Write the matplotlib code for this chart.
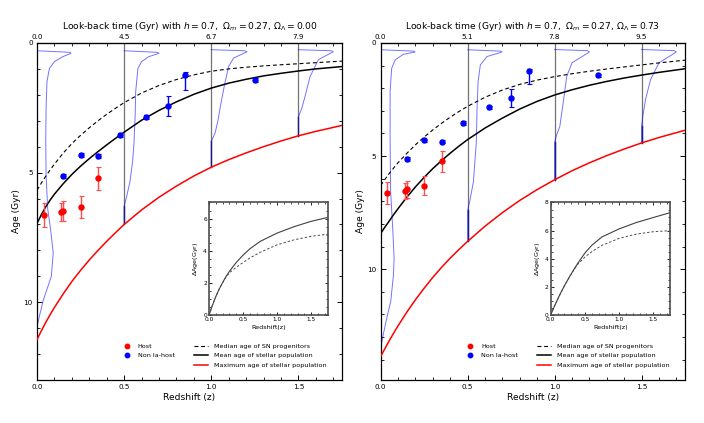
import numpy as np
import matplotlib
matplotlib.use("Agg")
import matplotlib.pyplot as plt
from matplotlib.ticker import MultipleLocator
from matplotlib.lines import Line2D

# --- observed points (same in both panels) ---
host_z = [0.038, 0.137, 0.150, 0.250, 0.350]
host_age = [6.62, 6.53, 6.47, 6.31, 5.22]
host_err_lo = [0.46, 0.36, 0.38, 0.41, 0.44]
host_err_hi = [0.48, 0.35, 0.39, 0.43, 0.47]

non_z = [0.150, 0.250, 0.350, 0.475, 0.625, 0.750, 0.850, 1.250]
non_age = [5.13, 4.31, 4.36, 3.54, 2.85, 2.42, 1.22, 1.43]
non_err_lo = [0.08, 0.08, 0.08, 0.08, 0.08, 0.39, 0.09, 0.08]
non_err_hi = [0.08, 0.08, 0.08, 0.08, 0.08, 0.41, 0.61, 0.08]

# --- model curves, redshift grid ---
zgrid = [0.0, 0.025, 0.05, 0.075, 0.1, 0.15, 0.2, 0.25, 0.3, 0.35, 0.4, 0.45, 0.5,
         0.6, 0.7, 0.8, 0.9, 1.0, 1.1, 1.2, 1.3, 1.4, 1.5, 1.6, 1.75]

# left panel: OmegaL = 0.00
median_L = [5.68, 5.40, 5.14, 4.90, 4.67, 4.25, 3.88, 3.56, 3.27, 3.00, 2.75, 2.52, 2.30,
            1.93, 1.64, 1.41, 1.23, 1.09, 1.00, 0.935, 0.885, 0.84, 0.80, 0.76, 0.70]
mean_L = [6.96, 6.62, 6.32, 6.06, 5.83, 5.43, 5.07, 4.75, 4.46, 4.19, 3.93, 3.68, 3.44,
          2.98, 2.60, 2.27, 1.98, 1.74, 1.55, 1.40, 1.27, 1.17, 1.08, 1.00, 0.91]
max_L = [11.44, 11.10, 10.78, 10.48, 10.20, 9.68, 9.20, 8.77, 8.37, 8.00, 7.65, 7.32, 7.00,
         6.44, 5.95, 5.52, 5.13, 4.79, 4.50, 4.24, 4.00, 3.78, 3.58, 3.41, 3.18]

# right panel: OmegaL = 0.73
median_R = [6.30, 6.02, 5.76, 5.52, 5.29, 4.88, 4.50, 4.16, 3.84, 3.55, 3.28, 3.03, 2.80,
            2.40, 2.08, 1.83, 1.64, 1.49, 1.36, 1.25, 1.15, 1.06, 0.97, 0.88, 0.76]
mean_R = [8.42, 8.13, 7.86, 7.58, 7.32, 6.82, 6.36, 5.94, 5.55, 5.20, 4.87, 4.56, 4.27,
          3.76, 3.32, 2.92, 2.58, 2.30, 2.07, 1.87, 1.70, 1.55, 1.42, 1.30, 1.14]
max_R = [13.85, 13.50, 13.15, 12.82, 12.50, 11.90, 11.35, 10.84, 10.36, 9.92, 9.51, 9.13, 8.77,
         8.10, 7.50, 6.96, 6.48, 6.05, 5.65, 5.30, 4.98, 4.69, 4.42, 4.18, 3.86]

# inset: Delta age vs redshift
zgrid_in = [0.0, 0.05, 0.1, 0.15, 0.2, 0.25, 0.3, 0.35, 0.4, 0.5, 0.6, 0.75, 1.0, 1.25, 1.5, 1.75]
dage_mean_L = [0.0, 0.60, 1.15, 1.62, 2.02, 2.40, 2.72, 3.00, 3.27, 3.73, 4.12, 4.58, 5.10, 5.50, 5.83, 6.08]
dage_med_L = [0.0, 0.60, 1.15, 1.62, 2.02, 2.37, 2.62, 2.81, 2.97, 3.27, 3.55, 3.90, 4.37, 4.68, 4.90, 5.03]
dage_mean_R = [0.0, 0.57, 1.10, 1.60, 2.07, 2.50, 2.92, 3.32, 3.70, 4.40, 4.95, 5.55, 6.12, 6.57, 6.93, 7.28]
dage_med_R = [0.0, 0.57, 1.10, 1.60, 2.07, 2.50, 2.90, 3.28, 3.62, 4.12, 4.50, 4.95, 5.45, 5.75, 5.92, 6.00]

# --- age distributions drawn sideways at z = 0, 0.5, 1.0, 1.5 ---
dist_z = [0.0, 0.5, 1.0, 1.5]
distL_age = [
    [0.30, 0.36, 0.40, 0.53, 0.72, 0.98, 1.49, 2.52, 3.81, 5.10, 6.38, 7.20, 8.10, 9.00, 9.92, 10.50, 10.95, 11.44],
    [0.30, 0.36, 0.40, 0.53, 0.72, 0.98, 1.88, 2.85, 3.90, 4.60, 5.36, 5.90, 6.30, 6.96],
    [0.26, 0.30, 0.34, 0.58, 0.90, 1.54, 2.45, 3.00, 3.47, 3.80, 4.78],
    [0.26, 0.30, 0.34, 0.64, 1.29, 2.06, 2.50, 2.85, 3.58],
]
distL_off = [
    [0.0, 0.190, 0.195, 0.147, 0.100, 0.071, 0.057, 0.052, 0.050, 0.052, 0.061, 0.078, 0.093, 0.082, 0.036, 0.015, 0.0, 0.0],
    [0.0, 0.190, 0.200, 0.140, 0.100, 0.079, 0.066, 0.063, 0.056, 0.048, 0.033, 0.015, 0.0, 0.0],
    [0.0, 0.190, 0.205, 0.128, 0.100, 0.078, 0.052, 0.038, 0.022, 0.0, 0.0],
    [0.0, 0.190, 0.200, 0.115, 0.067, 0.038, 0.020, 0.0, 0.0],
]
distR_age = [
    [0.30, 0.36, 0.40, 0.50, 0.75, 1.12, 2.15, 4.37, 6.58, 8.20, 9.53, 10.27, 11.40, 12.40, 13.22, 13.60, 13.85],
    [0.30, 0.36, 0.40, 0.60, 0.97, 1.71, 2.89, 4.37, 6.14, 7.00, 7.40, 8.77],
    [0.29, 0.34, 0.40, 0.88, 1.47, 2.50, 3.69, 4.10, 4.40, 6.05],
    [0.29, 0.34, 0.40, 0.88, 1.62, 2.50, 3.20, 3.69, 4.42],
]
distR_off = [
    [0.0, 0.190, 0.198, 0.130, 0.083, 0.063, 0.054, 0.054, 0.057, 0.069, 0.077, 0.073, 0.058, 0.028, 0.006, 0.0, 0.0],
    [0.0, 0.190, 0.198, 0.111, 0.073, 0.060, 0.054, 0.050, 0.033, 0.012, 0.0, 0.0],
    [0.0, 0.190, 0.200, 0.100, 0.070, 0.052, 0.030, 0.010, 0.0, 0.0],
    [0.0, 0.190, 0.200, 0.100, 0.052, 0.023, 0.008, 0.0, 0.0],
]

top_ticks = [0.0, 0.5, 1.0, 1.5]
top_labels_L = ["0.0", "4.5", "6.7", "7.9"]
top_labels_R = ["0.0", "5.1", "7.8", "9.5"]

fig = plt.figure(figsize=(7.04, 4.23), dpi=100)


def panel(rect, ymax, median, mean, maxage, d_age, d_off, top_labels, omega_l,
          inset_rect, inset_ymax, dmean, dmed):
    ax = fig.add_axes(rect)
    # vertical reference lines at z = 0.5, 1.0, 1.5 down to max age
    for z in dist_z[1:]:
        ax.plot([z, z], [0, maxage[zgrid.index(z)]], color="0.45", lw=0.9, zorder=1)
    # sideways age distributions; the zero tail sits on the baseline in dark blue
    for z, ages, offs in zip(dist_z, d_age, d_off):
        ax.plot(z + np.array(offs), ages, color="blue", alpha=0.55, lw=0.7, zorder=2)
        k = max(i for i in range(len(offs) - 1) if offs[i] > 0) + 1
        if z > 0:
            ax.plot([z, z], [ages[k], ages[-1]], color="#1a1a8c", lw=1.0, zorder=2)

    ax.plot(zgrid, median, color="k", ls=(0, (3.5, 2.5)), lw=0.8, zorder=3)
    ax.plot(zgrid, mean, color="k", lw=1.1, zorder=3)
    ax.plot(zgrid, maxage, color="red", lw=1.1, zorder=3)

    ax.errorbar(host_z, host_age, yerr=[host_err_lo, host_err_hi], fmt="none",
                ecolor=(1.0, 0.3, 0.3), elinewidth=1.0, capsize=1.8, capthick=0.8, zorder=4)
    ax.plot(host_z, host_age, "o", color="red", ms=3.6, mec="red", zorder=5)
    ax.errorbar(non_z, non_age, yerr=[non_err_lo, non_err_hi], fmt="none",
                ecolor="blue", elinewidth=1.0, capsize=1.8, capthick=0.8, zorder=4)
    ax.plot(non_z, non_age, "o", color="blue", ms=3.6, mec="blue", zorder=5)

    ax.set_xlim(0, 1.75)
    ax.set_ylim(ymax, 0)
    ax.xaxis.set_major_locator(MultipleLocator(0.5))
    ax.xaxis.set_minor_locator(MultipleLocator(0.1))
    ax.yaxis.set_major_locator(MultipleLocator(5))
    ax.yaxis.set_minor_locator(MultipleLocator(1))
    ax.tick_params(which="both", direction="in", right=True, top=False, labelsize=5.2, pad=3)
    ax.tick_params(which="major", length=3.5, width=0.7)
    ax.tick_params(which="minor", length=2, width=0.6)
    for s in ax.spines.values():
        s.set_linewidth(0.9)
    ax.set_xlabel("Redshift (z)", fontsize=6.6, labelpad=2)
    ax.set_ylabel("Age (Gyr)", fontsize=6.6, labelpad=2)

    sec = ax.secondary_xaxis("top")
    sec.set_xticks(top_ticks, labels=top_labels)
    sec.xaxis.set_minor_locator(MultipleLocator(0.1))
    sec.tick_params(which="both", direction="in", labelsize=5.2, pad=2)
    sec.tick_params(which="major", length=3.5, width=0.7)
    sec.tick_params(which="minor", length=2, width=0.6)
    sec.set_xlabel(r"Look-back time (Gyr) with $h = 0.7$,  $\Omega_m = 0.27$, $\Omega_\Lambda = %s$" % omega_l,
                   fontsize=6.6, labelpad=4)

    # legends
    pts = [Line2D([], [], ls="none", marker="o", color="red", ms=3.2),
           Line2D([], [], ls="none", marker="o", color="blue", ms=3.2)]
    leg1 = ax.legend(pts, ["Host", "Non Ia-host"], loc="upper left",
                     bbox_to_anchor=(0.274, 0.118), frameon=False, fontsize=4.6,
                     handlelength=1.0, handletextpad=1.2, labelspacing=0.62, borderpad=0)
    ax.add_artist(leg1)
    lns = [Line2D([], [], color="k", ls=(0, (3.5, 2.5)), lw=0.8),
           Line2D([], [], color="k", lw=1.1),
           Line2D([], [], color="red", lw=1.1)]
    ax.legend(lns, ["Median age of SN progenitors", "Mean age of stellar population",
                    "Maximum age of stellar population"], loc="upper left",
              bbox_to_anchor=(0.503, 0.118), frameon=False, fontsize=4.6,
              handlelength=2.2, handletextpad=1.0, labelspacing=0.62, borderpad=0)

    ins = fig.add_axes(inset_rect)
    ins.plot(zgrid_in, dmean, color="0.25", lw=0.8)
    ins.plot(zgrid_in, dmed, color="0.3", lw=0.7, ls=(0, (2.5, 2)))
    ins.set_xlim(0, 1.75)
    ins.set_ylim(0, inset_ymax)
    ins.xaxis.set_major_locator(MultipleLocator(0.5))
    ins.xaxis.set_minor_locator(MultipleLocator(0.1))
    ins.yaxis.set_major_locator(MultipleLocator(2))
    ins.yaxis.set_minor_locator(MultipleLocator(0.5))
    ins.tick_params(which="both", direction="in", top=True, right=True, labelsize=4.2, pad=1.5)
    ins.tick_params(which="major", length=2.2, width=0.6)
    ins.tick_params(which="minor", length=1.2, width=0.5)
    for s in ins.spines.values():
        s.set_linewidth(1.2)
        s.set_color("0.3")
    ins.set_xlabel("Redshift(z)", fontsize=4.6, labelpad=2)
    ins.set_ylabel(r"$\Delta$Age(Gyr)", fontsize=4.6, labelpad=2)


panel([0.0526, 0.1017, 0.4332, 0.7967], 13.0, median_L, mean_L, max_L, distL_age, distL_off,
      top_labels_L, "0.00", [0.2969, 0.2553, 0.1695, 0.266], 7, dage_mean_L, dage_med_L)
panel([0.5408, 0.1017, 0.4322, 0.7967], 14.9, median_R, mean_R, max_R, distR_age, distR_off,
      top_labels_R, "0.73", [0.7822, 0.2553, 0.1699, 0.266], 8, dage_mean_R, dage_med_R)

fig.savefig("out.png", dpi=100)
